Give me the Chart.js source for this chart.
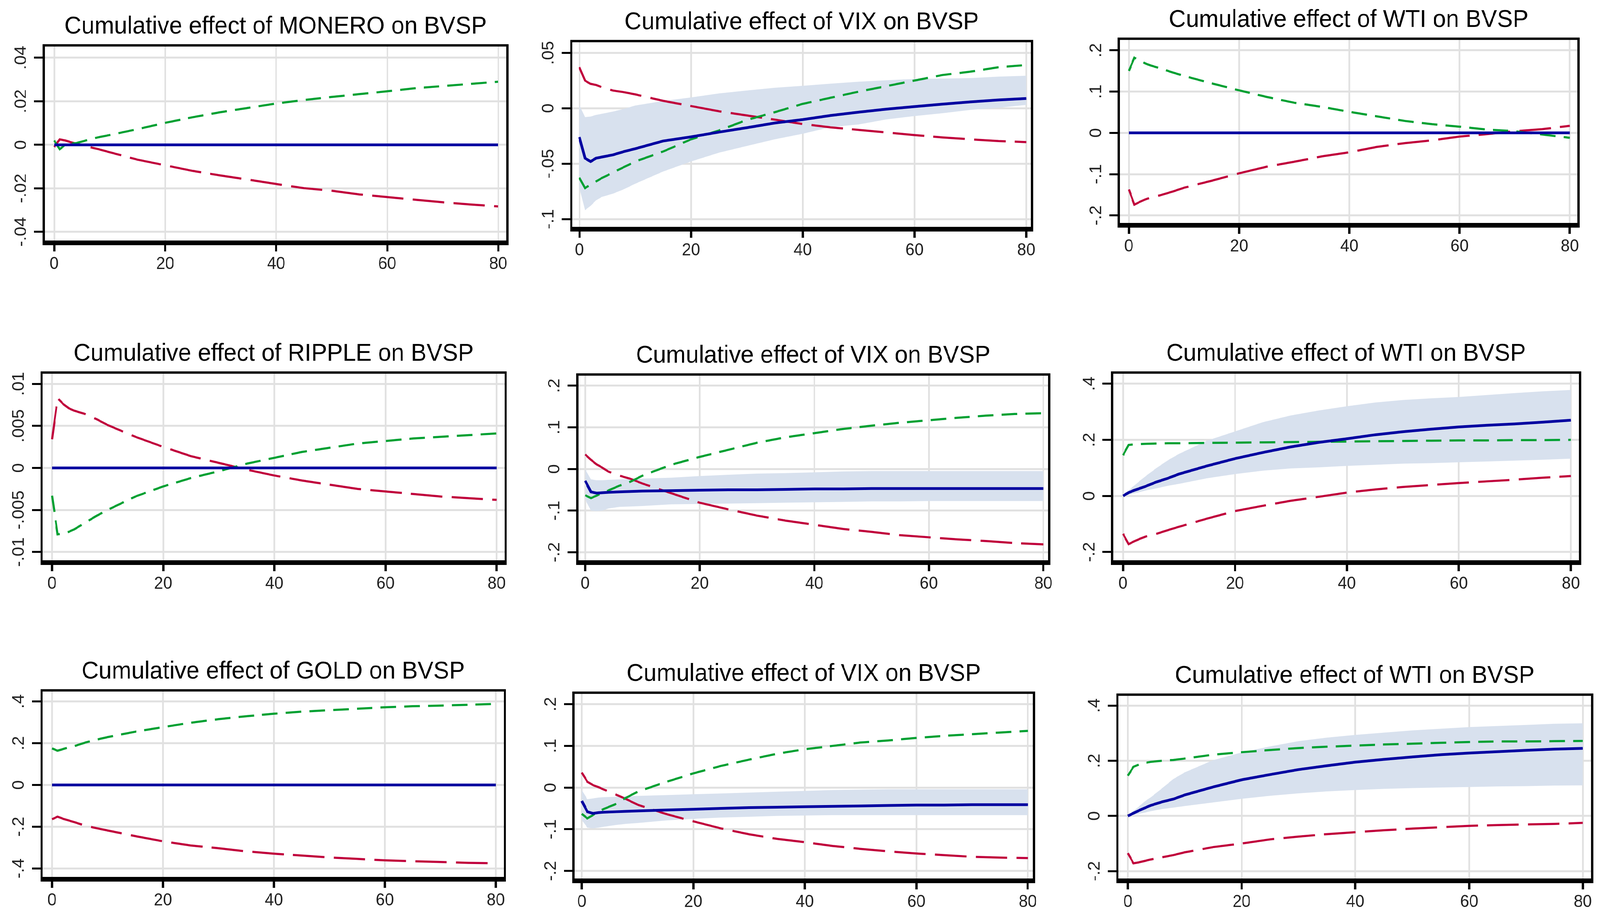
<!DOCTYPE html>
<html>
<head>
<meta charset="utf-8">
<script src="https://cdn.jsdelivr.net/npm/chart.js@4.4.1/dist/chart.umd.min.js"></script>
<style>
  html, body { margin: 0; padding: 0; background: #fff; overflow: hidden; }
  #page { position: absolute; left: 0; top: 0; width: 4313px; height: 2341px; transform-origin: 0 0; background: #fff; }
  canvas { position: absolute; }
</style>
</head>
<body>
<div id="page"></div>
<script>
// horizons (steps after the shock)
const horizon = [0, 1, 2, 3, 4, 6, 8, 10, 15, 20, 25, 30, 35, 40, 45, 50, 55, 60, 65, 70, 75, 80];
const flat    = [0, 0, 0, 0, 0, 0, 0, 0, 0, 0, 0, 0, 0, 0, 0, 0, 0, 0, 0, 0, 0, 0];
const xTicks = [0, 20, 40, 60, 80];

// row 1
const moneroPos = [0.002, -0.002, 0.000, 0.0005, 0.0008, 0.0022, 0.0035, 0.0045, 0.0072, 0.0101, 0.0127, 0.015, 0.017, 0.019, 0.0206, 0.022, 0.0233, 0.0246, 0.026, 0.027, 0.028, 0.029];
const moneroNeg = [-0.001, 0.0025, 0.002, 0.0012, 0.0005, -0.0008, -0.002, -0.0034, -0.0068, -0.0094, -0.012, -0.0141, -0.016, -0.018, -0.0199, -0.0211, -0.0228, -0.024, -0.0252, -0.0264, -0.0274, -0.0283];

const vix1Asym = [-0.026, -0.045, -0.048, -0.045, -0.044, -0.042, -0.039, -0.0365, -0.0295, -0.0258, -0.0215, -0.0175, -0.0133, -0.0102, -0.0065, -0.0035, -0.0008, 0.0015, 0.0037, 0.0057, 0.0075, 0.0088];
const vix1Hi   = [0.003, -0.008, -0.0075, -0.006, -0.005, -0.003, -0.0005, 0.0025, 0.0065, 0.0098, 0.0134, 0.016, 0.0185, 0.0203, 0.0222, 0.024, 0.0253, 0.0264, 0.0268, 0.0272, 0.0285, 0.0293];
const vix1Lo   = [-0.0715, -0.092, -0.088, -0.083, -0.08, -0.077, -0.073, -0.068, -0.057, -0.048, -0.04, -0.034, -0.028, -0.023, -0.017, -0.0146, -0.01, -0.007, -0.0045, -0.0015, 0.0005, 0.003];
const vix1Pos  = [-0.0626, -0.072, -0.069, -0.066, -0.063, -0.058, -0.053, -0.048, -0.039, -0.028, -0.02, -0.0105, -0.0035, 0.004, 0.0095, 0.015, 0.02, 0.025, 0.03, 0.033, 0.037, 0.039];
const vix1Neg  = [0.037, 0.025, 0.022, 0.021, 0.019, 0.016, 0.0145, 0.0125, 0.0067, 0.002, -0.0027, -0.0065, -0.0103, -0.0142, -0.0172, -0.0195, -0.0218, -0.0242, -0.0263, -0.028, -0.0296, -0.0305];

const wti1Pos = [0.15, 0.182, 0.175, 0.168, 0.163, 0.155, 0.146, 0.138, 0.12, 0.103, 0.087, 0.073, 0.063, 0.051, 0.04, 0.029, 0.021, 0.015, 0.008, 0.004, -0.004, -0.012];
const wti1Neg = [-0.137, -0.174, -0.167, -0.161, -0.157, -0.15, -0.142, -0.133, -0.116, -0.098, -0.082, -0.07, -0.057, -0.047, -0.034, -0.025, -0.018, -0.009, -0.003, 0.004, 0.009, 0.017];

// row 2
const ripplePos = [-0.0033, -0.0079, -0.0078, -0.0076, -0.0073, -0.0065, -0.0057, -0.005, -0.0034, -0.0022, -0.0012, -0.0004, 0.0005, 0.0012, 0.0019, 0.0024, 0.0029, 0.0032, 0.0035, 0.0037, 0.0039, 0.0041];
const rippleNeg = [0.0034, 0.0083, 0.0076, 0.0071, 0.0068, 0.0064, 0.0058, 0.0051, 0.0037, 0.0025, 0.0014, 0.0006, -0.0002, -0.0009, -0.0015, -0.002, -0.0025, -0.0028, -0.0031, -0.0034, -0.0036, -0.0038];

const vix2Asym = [-0.028, -0.055, -0.058, -0.057, -0.056, -0.055, -0.054, -0.053, -0.052, -0.051, -0.05, -0.05, -0.049, -0.048, -0.048, -0.047, -0.047, -0.047, -0.047, -0.047, -0.047, -0.047];
const vix2Hi   = [0.0, -0.025, -0.027, -0.027, -0.026, -0.025, -0.024, -0.023, -0.021, -0.017, -0.014, -0.011, -0.01, -0.008, -0.006, -0.005, -0.005, -0.005, -0.005, -0.005, -0.005, -0.005];
const vix2Lo   = [-0.073, -0.1, -0.101, -0.1, -0.095, -0.091, -0.09, -0.089, -0.085, -0.084, -0.083, -0.082, -0.081, -0.08, -0.079, -0.078, -0.078, -0.077, -0.077, -0.077, -0.077, -0.077];
const vix2Pos  = [-0.063, -0.07, -0.064, -0.057, -0.052, -0.04, -0.03, -0.016, 0.01, 0.029, 0.046, 0.063, 0.076, 0.086, 0.096, 0.104, 0.111, 0.117, 0.123, 0.128, 0.132, 0.134];
const vix2Neg  = [0.035, 0.022, 0.011, 0.003, -0.006, -0.016, -0.024, -0.035, -0.058, -0.081, -0.097, -0.112, -0.124, -0.134, -0.144, -0.151, -0.159, -0.164, -0.169, -0.173, -0.178, -0.181];

const wti2Asym = [0, 0.012, 0.02, 0.027, 0.034, 0.05, 0.063, 0.078, 0.107, 0.133, 0.155, 0.175, 0.191, 0.204, 0.218, 0.229, 0.238, 0.246, 0.252, 0.257, 0.263, 0.27];
const wti2Hi   = [0, 0.02, 0.037, 0.054, 0.07, 0.1, 0.127, 0.15, 0.197, 0.23, 0.263, 0.287, 0.305, 0.32, 0.333, 0.342, 0.348, 0.353, 0.36, 0.367, 0.373, 0.378];
const wti2Lo   = [0, 0.004, 0.009, 0.014, 0.019, 0.027, 0.036, 0.043, 0.063, 0.078, 0.09, 0.098, 0.102, 0.107, 0.111, 0.115, 0.117, 0.12, 0.123, 0.126, 0.129, 0.133];
const wti2Pos  = [0.145, 0.182, 0.184, 0.185, 0.186, 0.187, 0.188, 0.188, 0.189, 0.19, 0.191, 0.192, 0.193, 0.194, 0.195, 0.196, 0.197, 0.198, 0.198, 0.199, 0.199, 0.2];
const wti2Neg  = [-0.135, -0.172, -0.162, -0.153, -0.145, -0.135, -0.122, -0.11, -0.081, -0.054, -0.035, -0.017, -0.003, 0.012, 0.023, 0.032, 0.039, 0.046, 0.052, 0.058, 0.065, 0.071];

// row 3
const goldPos = [0.175, 0.164, 0.172, 0.18, 0.186, 0.203, 0.217, 0.229, 0.255, 0.277, 0.298, 0.315, 0.329, 0.341, 0.351, 0.358, 0.365, 0.372, 0.377, 0.38, 0.384, 0.388];
const goldNeg = [-0.164, -0.152, -0.162, -0.17, -0.178, -0.195, -0.207, -0.218, -0.245, -0.27, -0.29, -0.303, -0.318, -0.329, -0.338, -0.347, -0.354, -0.361, -0.365, -0.369, -0.373, -0.375];

const vix3Asym = [-0.032, -0.058, -0.062, -0.06, -0.059, -0.058, -0.057, -0.056, -0.054, -0.052, -0.05, -0.048, -0.047, -0.046, -0.045, -0.044, -0.043, -0.042, -0.042, -0.041, -0.041, -0.041];
const vix3Hi   = [-0.006, -0.028, -0.026, -0.024, -0.023, -0.022, -0.021, -0.02, -0.018, -0.016, -0.014, -0.012, -0.01, -0.008, -0.006, -0.005, -0.004, -0.004, -0.004, -0.004, -0.004, -0.004];
const vix3Lo   = [-0.078, -0.096, -0.098, -0.096, -0.094, -0.09, -0.087, -0.085, -0.079, -0.075, -0.072, -0.07, -0.068, -0.067, -0.066, -0.066, -0.066, -0.066, -0.066, -0.066, -0.066, -0.066];
const vix3Pos  = [-0.063, -0.074, -0.066, -0.058, -0.051, -0.04, -0.024, -0.01, 0.013, 0.034, 0.052, 0.067, 0.081, 0.092, 0.1, 0.108, 0.113, 0.119, 0.124, 0.128, 0.132, 0.136];
const vix3Neg  = [0.036, 0.014, 0.006, 0.001, -0.005, -0.016, -0.028, -0.041, -0.063, -0.081, -0.098, -0.112, -0.123, -0.131, -0.14, -0.147, -0.153, -0.158, -0.162, -0.166, -0.168, -0.169];

const wti3Asym = [0, 0.01, 0.02, 0.029, 0.038, 0.051, 0.061, 0.076, 0.105, 0.131, 0.15, 0.168, 0.182, 0.195, 0.205, 0.214, 0.222, 0.228, 0.233, 0.238, 0.242, 0.245];
const wti3Hi   = [0, 0.018, 0.035, 0.053, 0.067, 0.1, 0.134, 0.158, 0.202, 0.23, 0.252, 0.271, 0.284, 0.294, 0.302, 0.31, 0.316, 0.322, 0.326, 0.33, 0.334, 0.336];
const wti3Lo   = [0, 0.004, 0.008, 0.012, 0.017, 0.025, 0.03, 0.036, 0.049, 0.062, 0.073, 0.082, 0.089, 0.094, 0.098, 0.101, 0.103, 0.105, 0.107, 0.108, 0.11, 0.111];
const wti3Pos  = [0.146, 0.178, 0.187, 0.192, 0.196, 0.2, 0.203, 0.208, 0.222, 0.231, 0.239, 0.246, 0.251, 0.255, 0.259, 0.262, 0.265, 0.268, 0.27, 0.27, 0.271, 0.272];
const wti3Neg  = [-0.135, -0.172, -0.168, -0.163, -0.158, -0.15, -0.142, -0.132, -0.113, -0.1, -0.085, -0.075, -0.066, -0.059, -0.052, -0.046, -0.041, -0.036, -0.033, -0.031, -0.029, -0.025];

// y tick values and their Stata style labels
const yTicksA = [-0.04, -0.02, 0, 0.02, 0.04];     const yLabelsA = ['-.04', '-.02', '0', '.02', '.04'];
const yTicksB = [-0.1, -0.05, 0, 0.05];            const yLabelsB = ['-.1', '-.05', '0', '.05'];
const yTicksC = [-0.2, -0.1, 0, 0.1, 0.2];         const yLabelsC = ['-.2', '-.1', '0', '.1', '.2'];
const yTicksD = [-0.01, -0.005, 0, 0.005, 0.01];   const yLabelsD = ['-.01', '-.005', '0', '.005', '.01'];
const yTicksE = [-0.2, 0, 0.2, 0.4];               const yLabelsE = ['-.2', '0', '.2', '.4'];
const yTicksF = [-0.4, -0.2, 0, 0.2, 0.4];         const yLabelsF = ['-.4', '-.2', '0', '.2', '.4'];

const FONT = "'Liberation Sans', Arial, sans-serif";
const BLUE = '#0000a0', GREEN = '#00a032', RED = '#c0003c', BAND = '#d8e1ee', GRID = '#e1e1e1';
const L = 120, R = 30, B = 80, T = 88;

// panel table: text + which arrays, plus layout (plot area in page px) and axis ranges
const panels = [
  { title: 'Cumulative effect of MONERO on BVSP', pos: moneroPos, neg: moneroNeg, asym: flat,
    area: [118, 116, 1368, 619], xr: [-1.87, 81.67], yr: [-0.0445, 0.0457], yt: yTicksA, yl: yLabelsA },
  { title: 'Cumulative effect of VIX on BVSP', pos: vix1Pos, neg: vix1Neg, asym: vix1Asym, hi: vix1Hi, lo: vix1Lo,
    area: [1540, 105, 2782, 584], xr: [-1.45, 81.04], yr: [-0.108, 0.0606], yt: yTicksB, yl: yLabelsB },
  { title: 'Cumulative effect of WTI on BVSP', pos: wti1Pos, neg: wti1Neg, asym: flat,
    area: [3016, 99, 4255, 574], xr: [-1.82, 81.57], yr: [-0.221, 0.228], yt: yTicksC, yl: yLabelsC },
  { title: 'Cumulative effect of RIPPLE on BVSP', pos: ripplePos, neg: rippleNeg, asym: flat,
    area: [112, 954, 1363, 1438], xr: [-1.89, 81.64], yr: [-0.01112, 0.01134], yt: yTicksD, yl: yLabelsD },
  { title: 'Cumulative effect of VIX on BVSP', pos: vix2Pos, neg: vix2Neg, asym: vix2Asym, hi: vix2Hi, lo: vix2Lo,
    area: [1556, 959, 2828, 1438], xr: [-1.39, 81.0], yr: [-0.222, 0.2268], yt: yTicksC, yl: yLabelsC },
  { title: 'Cumulative effect of WTI on BVSP', pos: wti2Pos, neg: wti2Neg, asym: wti2Asym, hi: wti2Hi, lo: wti2Lo,
    area: [2998, 954, 4259, 1438], xr: [-1.94, 81.63], yr: [-0.2336, 0.44], yt: yTicksE, yl: yLabelsE },
  { title: 'Cumulative effect of GOLD on BVSP', pos: goldPos, neg: goldNeg, asym: flat,
    area: [112, 1768, 1361, 2249], xr: [-1.89, 81.65], yr: [-0.446, 0.453], yt: yTicksF, yl: yLabelsF },
  { title: 'Cumulative effect of VIX on BVSP', pos: vix3Pos, neg: vix3Neg, asym: vix3Asym, hi: vix3Hi, lo: vix3Lo,
    area: [1546, 1774, 2787, 2253], xr: [-1.48, 81.1], yr: [-0.2208, 0.2275], yt: yTicksC, yl: yLabelsC },
  { title: 'Cumulative effect of WTI on BVSP', pos: wti3Pos, neg: wti3Neg, asym: wti3Asym, hi: wti3Hi, lo: wti3Lo,
    area: [3012, 1779, 4292, 2253], xr: [-1.84, 81.64], yr: [-0.231, 0.4397], yt: yTicksE, yl: yLabelsE }
];

// fit the 4313x2341 page into whatever viewport we really get
const page = document.getElementById('page');
const sx = window.innerWidth / 4313, sy = window.innerHeight / 2341;
if (Math.abs(sx - 1) > 0.002 || Math.abs(sy - 1) > 0.002) {
  page.style.transform = 'scale(' + sx + ',' + sy + ')';
}

function pts(arr) {
  return horizon.map((h, i) => ({ x: h, y: arr[i] }));
}

// black frame round the plot region + rotated y labels (Stata style)
const framePlugin = {
  id: 'frame',
  afterDraw(chart, args, opts) {
    const { ctx, chartArea: a } = chart;
    const ys = chart.scales.y;
    ctx.save();
    ctx.strokeStyle = '#000';
    ctx.lineWidth = 6;
    ctx.strokeRect(a.left, a.top, a.right - a.left, a.bottom - a.top);
    ctx.fillStyle = '#000';
    ctx.fillRect(a.left - 3, a.bottom - 3, a.right - a.left + 6, 12);

    ctx.fillStyle = '#222';
    ctx.font = '44px ' + FONT;
    ctx.textAlign = 'center';
    ctx.textBaseline = 'middle';
    opts.ticks.forEach((v, i) => {
      ctx.save();
      ctx.translate(a.left - 60, ys.getPixelForValue(v));
      ctx.rotate(-Math.PI / 2);
      ctx.fillText(opts.labels[i], 0, 0);
      ctx.restore();
    });
    ctx.restore();
  }
};

panels.forEach(p => {
  const [x0, y0, x1, y1] = p.area;
  const cv = document.createElement('canvas');
  cv.width = (x1 - x0) + L + R;
  cv.height = (y1 - y0) + T + B;
  cv.style.left = (x0 - L) + 'px';
  cv.style.top = (y0 - T) + 'px';
  page.appendChild(cv);

  const datasets = [
    { data: pts(p.asym), borderColor: BLUE, borderWidth: 7 },
    { data: pts(p.pos), borderColor: GREEN, borderWidth: 5.5, borderDash: [42, 22] },
    { data: pts(p.neg), borderColor: RED, borderWidth: 5.5, borderDash: [85, 25] }
  ];
  if (p.hi) {
    datasets.push({ data: pts(p.lo), borderWidth: 0, borderColor: 'rgba(0,0,0,0)' });
    datasets.push({ data: pts(p.hi), borderWidth: 0, borderColor: 'rgba(0,0,0,0)', backgroundColor: BAND, fill: '-1' });
  }

  new Chart(cv.getContext('2d'), {
    type: 'line',
    data: { datasets: datasets },
    options: {
      responsive: false,
      animation: false,
      devicePixelRatio: 1,
      elements: { point: { radius: 0 }, line: { tension: 0, borderCapStyle: 'butt' } },
      layout: { padding: { left: 0, right: R, top: 0, bottom: 0 } },
      plugins: {
        legend: { display: false },
        tooltip: { enabled: false },
        title: {
          display: true,
          text: p.title,
          fullSize: false,
          color: '#000',
          font: { family: FONT, size: 63.5, weight: 'normal', lineHeight: 1.2 },
          padding: { top: 2, bottom: 10 }
        },
        filler: { drawTime: 'beforeDatasetsDraw' },
        frame: { ticks: p.yt, labels: p.yl }
      },
      scales: {
        x: {
          type: 'linear',
          min: p.xr[0],
          max: p.xr[1],
          afterBuildTicks: s => { s.ticks = xTicks.map(v => ({ value: v })); },
          afterFit: s => { s.height = B; },
          border: { display: false },
          grid: { color: GRID, lineWidth: 4.5, tickColor: '#000', tickWidth: 6, tickLength: 25 },
          ticks: { color: '#222', padding: 6, font: { family: FONT, size: 44 }, maxRotation: 0, autoSkip: false,
                   callback: v => String(v) }
        },
        y: {
          type: 'linear',
          min: p.yr[0],
          max: p.yr[1],
          afterBuildTicks: s => { s.ticks = p.yt.map(v => ({ value: v })); },
          afterFit: s => { s.width = L; },
          border: { display: false },
          grid: { color: GRID, lineWidth: 5, tickColor: '#000', tickWidth: 5, tickLength: 26 },
          ticks: { display: false }
        }
      }
    },
    plugins: [framePlugin]
  });
});
</script>
</body>
</html>
